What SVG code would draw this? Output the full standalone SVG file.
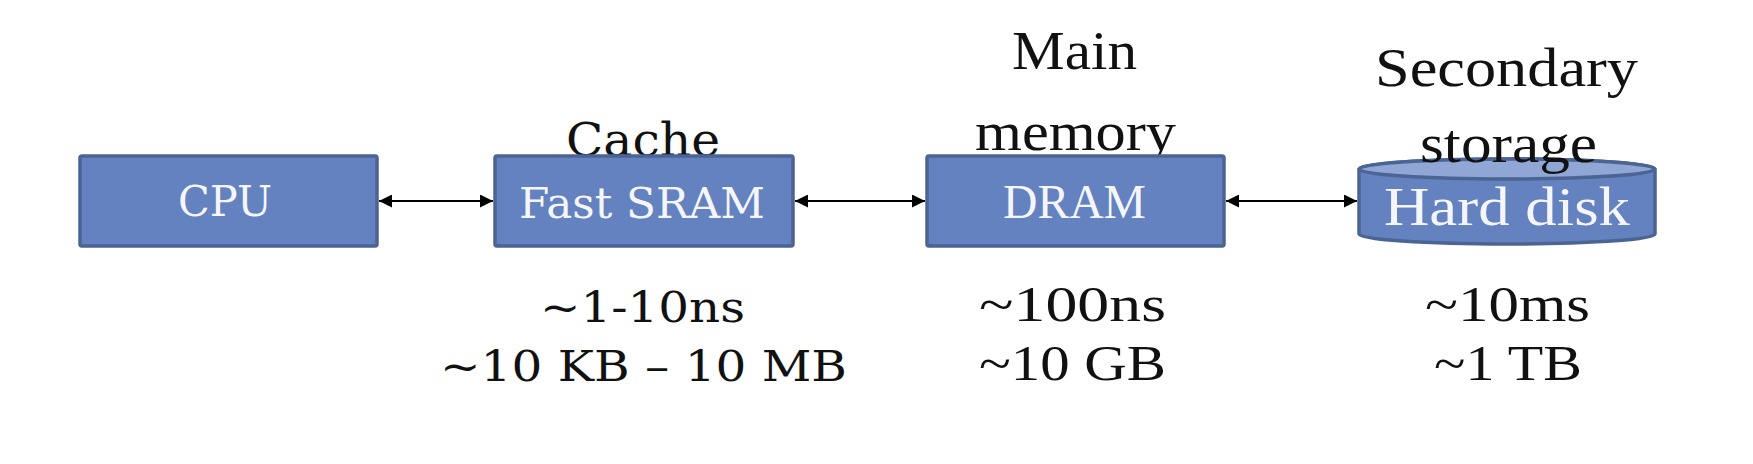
<svg xmlns="http://www.w3.org/2000/svg" width="1753" height="464" viewBox="0 0 1753 464">
<style>
.box{fill:#6482bf;stroke:#4b6494;stroke-width:3.5}
.top{fill:#90a6d5;stroke:#4b6494;stroke-width:3.5}
.bk{font-family:"DejaVu Serif","Liberation Serif",serif;fill:#111}
.wb{font-family:"DejaVu Serif","Liberation Serif",serif;fill:#f4f6fb}
.tm{font-family:"Liberation Serif","Times New Roman",serif;fill:#111}
.tw{font-family:"Liberation Serif","Times New Roman",serif;fill:#f4f6fb}
.ln{stroke:#000;stroke-width:1.8;fill:none}
</style>
<defs>
<marker id="ah" viewBox="0 0 13 13" refX="13" refY="6.5" markerWidth="13" markerHeight="13" markerUnits="userSpaceOnUse" orient="auto-start-reverse">
<path d="M0,0 L13,6.5 L0,13 Z" fill="#000"/>
</marker>
</defs>
<rect width="1753" height="464" fill="#fff"/>
<g id="connectors">
<line class="ln" x1="379" y1="201" x2="493" y2="201" marker-start="url(#ah)" marker-end="url(#ah)"/>
<line class="ln" x1="795" y1="201" x2="925" y2="201" marker-start="url(#ah)" marker-end="url(#ah)"/>
<line class="ln" x1="1226" y1="201" x2="1357" y2="201" marker-start="url(#ah)" marker-end="url(#ah)"/>
</g>
<g id="cpu">
<rect class="box" x="80" y="156" width="297" height="90" rx="2"/>
<text class="wb" x="178" y="216" font-size="42" textLength="94" lengthAdjust="spacingAndGlyphs">CPU</text>
</g>
<g id="cache">
<text class="bk" x="566" y="156" font-size="47" textLength="154" lengthAdjust="spacingAndGlyphs">Cache</text>
<rect class="box" x="495" y="156" width="298" height="90" rx="2"/>
<text class="wb" x="519" y="218" font-size="43" textLength="246" lengthAdjust="spacingAndGlyphs">Fast SRAM</text>
<text class="bk" x="540" y="322" font-size="42" textLength="205" lengthAdjust="spacingAndGlyphs">~1-10ns</text>
<text class="bk" x="440" y="381" font-size="42" textLength="407" lengthAdjust="spacingAndGlyphs">~10 KB – 10 MB</text>
</g>
<g id="main-memory">
<text class="tm" x="1012" y="69" font-size="54" textLength="125" lengthAdjust="spacingAndGlyphs">Main</text>
<text class="tm" x="975" y="150" font-size="54" textLength="201" lengthAdjust="spacingAndGlyphs">memory</text>
<rect class="box" x="927" y="156" width="297" height="90" rx="2"/>
<text class="tw" x="1003" y="218" font-size="48" textLength="143" lengthAdjust="spacingAndGlyphs">DRAM</text>
<text class="tm" x="979" y="321" font-size="50" textLength="187" lengthAdjust="spacingAndGlyphs">~100ns</text>
<text class="tm" x="979" y="380" font-size="50" textLength="187" lengthAdjust="spacingAndGlyphs">~10 GB</text>
</g>
<g id="secondary-storage">
<text class="tm" x="1375" y="86" font-size="54" textLength="263" lengthAdjust="spacingAndGlyphs">Secondary</text>
<path class="box" d="M1359,169 A148,10 0 0 1 1655,169 V234 A148,10 0 0 1 1359,234 Z"/>
<ellipse class="top" cx="1507" cy="169" rx="148" ry="10"/>
<text class="tm" x="1420" y="162" font-size="54" textLength="177" lengthAdjust="spacingAndGlyphs">storage</text>
<text class="tw" x="1384" y="225" font-size="54" textLength="246" lengthAdjust="spacingAndGlyphs">Hard disk</text>
<text class="tm" x="1425" y="321" font-size="50" textLength="165" lengthAdjust="spacingAndGlyphs">~10ms</text>
<text class="tm" x="1434" y="380" font-size="50" textLength="148" lengthAdjust="spacingAndGlyphs">~1 TB</text>
</g>
</svg>
